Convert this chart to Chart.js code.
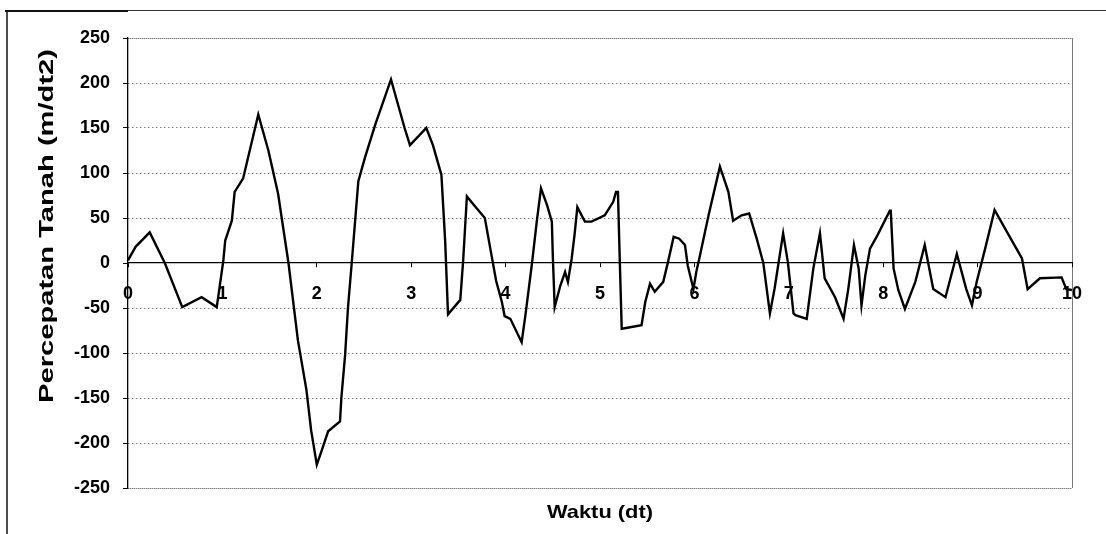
<!DOCTYPE html>
<html>
<head>
<meta charset="utf-8">
<script src="https://cdn.jsdelivr.net/npm/chart.js@4/dist/chart.umd.min.js"></script>
<style>
  html, body { margin: 0; padding: 0; background: #fff; }
  #wrap { width: 1106px; height: 534px; }
</style>
</head>
<body>
<div id="wrap"><canvas id="chart"></canvas></div>
<script>
// time (dt) and ground acceleration (m/dt2)
const waktu = [
    0, 0.08, 0.23, 0.39, 0.575, 0.78, 0.94, 0.97, 1.01, 1.03,
    1.10, 1.13, 1.22, 1.38, 1.487, 1.59, 1.70, 1.80, 1.89, 1.94,
    2.00, 2.05, 2.12, 2.246, 2.26, 2.30, 2.33, 2.37, 2.40, 2.44,
    2.51, 2.62, 2.786, 2.93, 2.987, 3.16, 3.23, 3.32, 3.36, 3.39,
    3.52, 3.55, 3.59, 3.66, 3.78, 3.85, 3.90, 3.96, 3.99, 4.05,
    4.17, 4.21, 4.28, 4.33, 4.375, 4.44, 4.49, 4.50, 4.52, 4.58,
    4.63, 4.66, 4.70, 4.73, 4.76, 4.84, 4.91, 5.05, 5.14, 5.17,
    5.19, 5.21, 5.23, 5.44, 5.48, 5.53, 5.58, 5.67, 5.72, 5.78,
    5.84, 5.90, 5.93, 5.99, 6.02, 6.06, 6.15, 6.27, 6.36, 6.41,
    6.50, 6.58, 6.66, 6.73, 6.80, 6.85, 6.94, 6.99, 7.05, 7.07,
    7.19, 7.26, 7.33, 7.38, 7.49, 7.58, 7.63, 7.69, 7.74, 7.77,
    7.81, 7.86, 7.94, 8.07, 8.08, 8.11, 8.16, 8.23, 8.34, 8.44,
    8.53, 8.66, 8.78, 8.88, 8.94, 8.99, 9.08, 9.18, 9.33, 9.47,
    9.53, 9.66, 9.89, 9.94, 10.0
];
const percepatan = [
    3, 18, 34, 0, -49, -38, -49, -27, 3, 25,
    47, 79, 94, 165, 125, 77, 0, -86, -141, -186,
    -224, -209, -187, -176, -150, -102, -50, 0, 39, 91,
    117, 154, 204, 150, 131, 150, 131, 98, 24, -57,
    -41, 2, 74, 65, 50, 9, -20, -43, -59, -62,
    -88, -58, 0, 46, 83, 64, 46, 8, -49, -25,
    -10, -21, 5, 31, 62, 46, 46, 53, 68, 79,
    79, 1, -73, -69, -43, -23, -32, -21, 1, 29,
    27, 20, -3, -29, -10, 9, 53, 107, 79, 47,
    53, 55, 27, 0, -56, -28, 33, 1, -56, -58,
    -62, -6, 33, -17, -38, -62, -29, 20, -6, -47,
    -14, 16, 31, 58, 58, -6, -30, -51, -21, 20,
    -29, -38, 10, -29, -47, -21, 16, 59, 31, 5,
    -29, -17, -16, -29, -30
];
const yTicks = [-250, -200, -150, -100, -50, 0, 50, 100, 150, 200, 250];
const xTicks = [0, 1, 2, 3, 4, 5, 6, 7, 8, 9, 10];

const judulY = "Percepatan Tanah (m/dt2)";
const judulX = "Waktu (dt)";

// draws a text stretched to a given length
function stretchedText(ctx, text, x, y, len, rot) {
    ctx.save();
    ctx.translate(x, y);
    if (rot) ctx.rotate(rot);
    const w = ctx.measureText(text).width;
    ctx.scale(len / w, 1);
    ctx.textAlign = "center";
    ctx.textBaseline = "middle";
    ctx.fillText(text, 0, 0);
    ctx.restore();
}

const frameAndTitles = {
    id: "frameAndTitles",
    beforeDraw(chart) {
        const ctx = chart.ctx;
        ctx.save();
        ctx.fillStyle = "#fff";
        ctx.fillRect(0, 0, chart.width, chart.height);
        ctx.strokeStyle = "#111";
        ctx.lineWidth = 2;
        ctx.beginPath();
        ctx.moveTo(5, 11);
        ctx.lineTo(128, 11);
        ctx.stroke();
        ctx.lineWidth = 1;
        ctx.strokeStyle = "#333";
        ctx.beginPath();
        ctx.moveTo(128, 10.5);
        ctx.lineTo(1106, 10.5);
        ctx.stroke();
        ctx.lineWidth = 1.5;
        ctx.strokeStyle = "#111";
        ctx.beginPath();
        ctx.moveTo(7, 10);
        ctx.lineTo(7, 534);
        ctx.stroke();
        ctx.restore();
    },
    afterDraw(chart) {
        const ctx = chart.ctx;
        ctx.save();
        ctx.fillStyle = "#000";
        ctx.font = "bold 21px 'Liberation Sans', Arial, sans-serif";
        stretchedText(ctx, judulY, 47, 226, 354, -Math.PI / 2);
        ctx.font = "bold 19px 'Liberation Sans', Arial, sans-serif";
        stretchedText(ctx, judulX, 600, 513, 106, 0);
        ctx.restore();
    }
};

const tickFont = { family: "'Liberation Sans', Arial, sans-serif", size: 18, weight: "bold" };

const canvas = document.getElementById("chart");

const chart = new Chart(canvas, {
    type: "line",
    data: {
        datasets: [
            {
                data: waktu.map((t, i) => ({ x: t, y: percepatan[i] })),
                borderColor: "#000",
                borderWidth: 2.4,
                pointRadius: 0,
                tension: 0,
                fill: false,
            },
        ],
    },
    options: {
        responsive: true,
        maintainAspectRatio: false,
        animation: false,
        layout: {
            padding: { left: 0, right: 34, top: 38, bottom: 46 },
        },
        plugins: {
            legend: { display: false },
            tooltip: { enabled: false },
        },
        scales: {
            x: {
                type: "linear",
                position: { y: 0 },
                min: 0,
                max: 10,
                afterBuildTicks: (scale) => {
                    scale.ticks = xTicks.map((v) => ({ value: v }));
                },
                ticks: {
                    autoSkip: false,
                    maxRotation: 0,
                    padding: 16,
                    color: "#000",
                    font: tickFont,
                },
                grid: {
                    color: (c) => (c.tick && c.tick.value === 10 ? "#777" : "rgba(0,0,0,0)"),
                    tickColor: "#000",
                    tickLength: 4,
                    tickBorderDash: [],
                    lineWidth: 1,
                },
                border: { display: true, color: "#000", width: 1.2 },
            },
            y: {
                min: -250,
                max: 250,
                afterBuildTicks: (scale) => {
                    scale.ticks = yTicks.map((v) => ({ value: v }));
                },
                afterFit: (scale) => {
                    scale.width = 128;
                },
                ticks: {
                    padding: 13,
                    color: "#000",
                    font: tickFont,
                },
                grid: {
                    color: (c) => (c.tick && c.tick.value === 0 ? "rgba(0,0,0,0)" : "#444"),
                    tickColor: "#000",
                    tickLength: 5,
                    tickBorderDash: [],
                    lineWidth: 1,
                },
                border: {
                    display: true,
                    color: "#000",
                    width: 1.3,
                    dash: (c) => (c.tick && Math.abs(c.tick.value) === 250 ? [1, 1] : [1, 3]),
                },
            },
        },
    },
    plugins: [frameAndTitles],
});
</script>
</body>
</html>
